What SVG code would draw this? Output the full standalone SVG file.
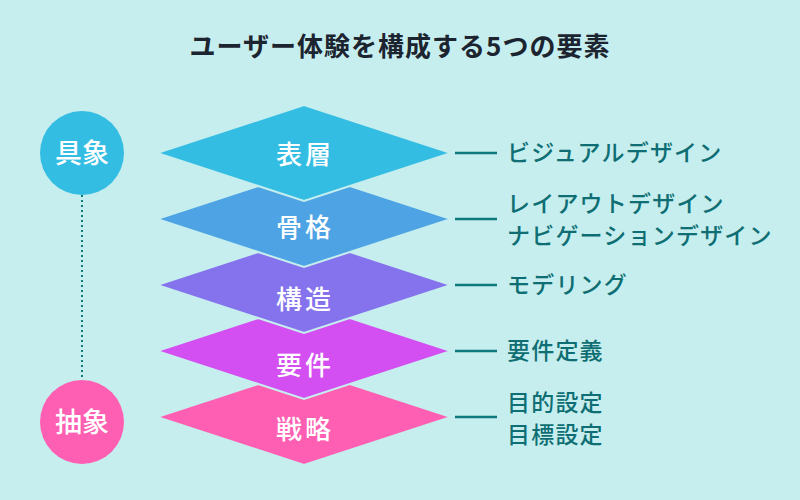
<svg xmlns="http://www.w3.org/2000/svg" width="800" height="500" viewBox="0 0 800 500">
<style>
.d{stroke:#c6eeee;stroke-width:2}
.dt{font-family:"Noto Sans CJK JP",sans-serif;font-size:26px;fill:#fff;text-anchor:middle;font-weight:500;letter-spacing:3px}
.ct{font-family:"Noto Sans CJK JP",sans-serif;font-size:27px;fill:#fff;text-anchor:middle;font-weight:500}
.lb{font-family:"Noto Sans CJK JP",sans-serif;font-size:23px;fill:#0f6e73;font-weight:500;letter-spacing:1.2px}
.ln{stroke:#0f7a7e;stroke-width:2.5}
</style>
<rect width="800" height="500" fill="#c6eeee"/>
<text x="400" y="56" text-anchor="middle" font-family="'Noto Sans CJK JP',sans-serif" font-size="26" font-weight="700" letter-spacing="1" fill="#1c2430">ユーザー体験を構成する5つの要素</text>
<g id="connectors">
<line x1="82" y1="195" x2="82" y2="380" stroke="#0f7a7e" stroke-width="2" stroke-dasharray="2,3"/>
<line class="ln" x1="455" y1="153" x2="497" y2="153"/>
<line class="ln" x1="455" y1="219" x2="497" y2="219"/>
<line class="ln" x1="455" y1="285" x2="497" y2="285"/>
<line class="ln" x1="455" y1="351" x2="497" y2="351"/>
<line class="ln" x1="455" y1="417" x2="497" y2="417"/>
</g>
<g id="n-concrete"><circle cx="82" cy="153" r="42" fill="#33bde3"/><text class="ct" x="82" y="163">具象</text></g>
<g id="n-abstract"><circle cx="82" cy="422" r="42" fill="#ff5fb3"/><text class="ct" x="82" y="432">抽象</text></g>
<g id="n-strategy"><polygon class="d" points="157,417 304,369 451,417 304,465" fill="#ff5fb3"/><text class="dt" x="305" y="439">戦略</text></g>
<g id="n-scope"><polygon class="d" points="157,351 304,303 451,351 304,399" fill="#d44ff2"/><text class="dt" x="305" y="375">要件</text></g>
<g id="n-structure"><polygon class="d" points="157,285 304,237 451,285 304,333" fill="#8573ee"/><text class="dt" x="305" y="309">構造</text></g>
<g id="n-skeleton"><polygon class="d" points="157,219 304,171 451,219 304,267" fill="#4da3e3"/><text class="dt" x="305" y="237">骨格</text></g>
<g id="n-surface"><polygon class="d" points="157,153 304,105 451,153 304,201" fill="#33bde3"/><text class="dt" x="305" y="164">表層</text></g>
<g id="labels">
<text class="lb" x="507" y="161">ビジュアルデザイン</text>
<text class="lb" x="507" y="212">レイアウトデザイン</text>
<text class="lb" x="507" y="244">ナビゲーションデザイン</text>
<text class="lb" x="507" y="293">モデリング</text>
<text class="lb" x="507" y="359">要件定義</text>
<text class="lb" x="507" y="411">目的設定</text>
<text class="lb" x="507" y="443">目標設定</text>
</g>
</svg>
